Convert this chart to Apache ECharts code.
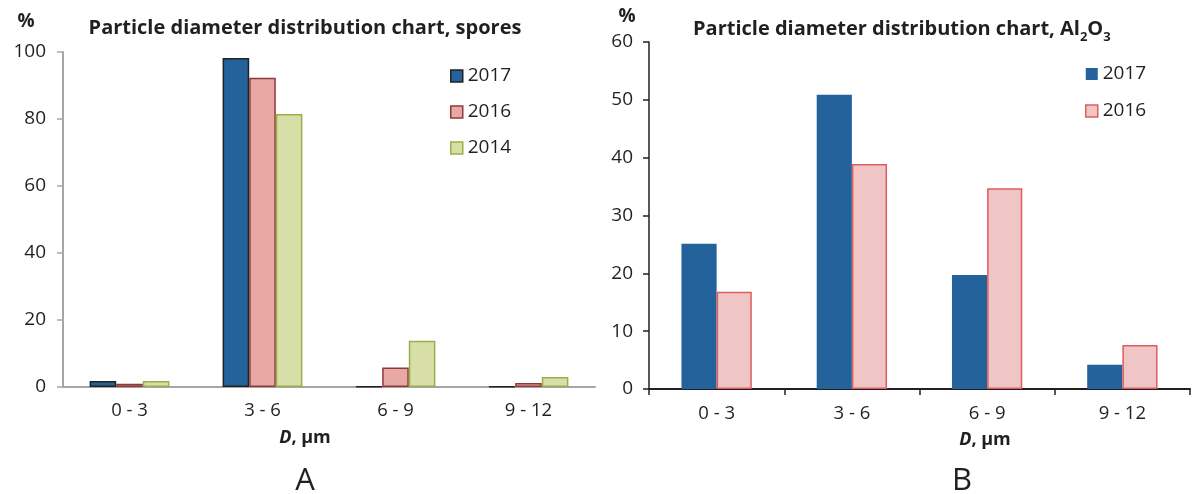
<!DOCTYPE html>
<html>
<head>
<meta charset="utf-8">
<script src="https://cdn.jsdelivr.net/npm/echarts@6/dist/echarts.min.js"></script>
<style>
html,body{margin:0;padding:0;background:#fff;}
#c{width:1197px;height:494px;}
</style>
</head>
<body>
<div id="c"></div>
<script>
const categories = ['0 - 3', '3 - 6', '6 - 9', '9 - 12'];
// Chart A: spores
const sporesTicks = [0, 20, 40, 60, 80, 100];
const spores2017 = [1.8, 98.2, 0.2, 0.2];
const spores2016 = [1.0, 92.3, 5.8, 1.2];
const spores2014 = [1.8, 81.5, 13.8, 3.0];
// Chart B: Al2O3
const aluTicks = [0, 10, 20, 30, 40, 50, 60];
const alu2017 = [25.1, 50.9, 19.7, 4.2];
const alu2016 = [16.8, 38.9, 34.7, 7.6];

const FONT = '"Open Sans", "Noto Sans", sans-serif';
const TXT = '#231f20';

const chart = echarts.init(document.getElementById('c'), null, {renderer: 'canvas'});

const c2017 = '#23629b';
const s2016fill = '#e8a8a4', s2016border = '#8e3a3a';
const s2014fill = '#d8dea7', s2014border = '#98b048';
const a2016fill = '#efc6c5', a2016border = '#e05c5c';

const option = {
  animation: false,
  backgroundColor: '#fff',
  textStyle: {fontFamily: FONT, color: TXT},
  grid: [
    {left: 63, top: 52, width: 532, height: 335, containLabel: false},
    {left: 649, top: 42, width: 541, height: 347, containLabel: false}
  ],
  xAxis: [
    {
      type: 'category', gridIndex: 0, data: categories,
      axisLine: {lineStyle: {color: '#a6a6a8', width: 2}},
      axisTick: {show: false},
      axisLabel: {fontSize: 18.5, color: TXT, fontFamily: FONT, margin: 14}
    },
    {
      type: 'category', gridIndex: 1, data: categories,
      axisLine: {lineStyle: {color: TXT, width: 2}},
      axisTick: {show: true, length: 6, lineStyle: {color: TXT, width: 1.5}},
      axisLabel: {fontSize: 18.5, color: TXT, fontFamily: FONT, margin: 15}
    }
  ],
  yAxis: [
    {
      type: 'value', gridIndex: 0, min: sporesTicks[0], max: sporesTicks[sporesTicks.length - 1], interval: 20,
      axisLine: {show: true, lineStyle: {color: '#a6a6a8', width: 2}},
      axisTick: {show: true, length: 6, lineStyle: {color: '#a6a6a8', width: 1.5}},
      splitLine: {show: false},
      axisLabel: {fontSize: 19, color: TXT, fontFamily: FONT, margin: 17}
    },
    {
      type: 'value', gridIndex: 1, min: aluTicks[0], max: aluTicks[aluTicks.length - 1], interval: 10,
      axisLine: {show: true, lineStyle: {color: TXT, width: 1.5}},
      axisTick: {show: true, length: 6, lineStyle: {color: TXT, width: 1.5}},
      splitLine: {show: false},
      axisLabel: {fontSize: 19, color: TXT, fontFamily: FONT, margin: 16}
    }
  ],
  legend: [
    {
      orient: 'vertical', left: 445, top: 60, itemWidth: 12, itemHeight: 12, itemGap: 14,
      icon: 'rect',
      textStyle: {fontSize: 19, color: TXT, fontFamily: FONT, lineHeight: 22},
      data: [
        {name: '2017', itemStyle: {color: c2017, borderColor: '#222', borderWidth: 1.5}},
        {name: '2016', itemStyle: {color: s2016fill, borderColor: s2016border, borderWidth: 1.5}},
        {name: '2014', itemStyle: {color: s2014fill, borderColor: s2014border, borderWidth: 1.5}}
      ],
      selectedMode: false
    },
    {
      orient: 'vertical', left: 1080, top: 58, itemWidth: 12, itemHeight: 12, itemGap: 15,
      icon: 'rect',
      textStyle: {fontSize: 19, color: TXT, fontFamily: FONT, lineHeight: 22},
      data: [
        {name: '2017', itemStyle: {color: c2017, borderColor: c2017, borderWidth: 0}},
        {name: '2016', itemStyle: {color: a2016fill, borderColor: a2016border, borderWidth: 1.5}}
      ],
      selectedMode: false
    }
  ],
  series: [
    {name: '2017', type: 'bar', xAxisIndex: 0, yAxisIndex: 0, data: spores2017, barWidth: '20%', barGap: '0%',
     itemStyle: {color: c2017, borderColor: '#222', borderWidth: 1.5}},
    {name: '2016', type: 'bar', xAxisIndex: 0, yAxisIndex: 0, data: spores2016, barWidth: '20%', barGap: '0%',
     itemStyle: {color: s2016fill, borderColor: s2016border, borderWidth: 1.5}},
    {name: '2014', type: 'bar', xAxisIndex: 0, yAxisIndex: 0, data: spores2014, barWidth: '20%', barGap: '0%',
     itemStyle: {color: s2014fill, borderColor: s2014border, borderWidth: 1.5}},
    {name: '2017', type: 'bar', xAxisIndex: 1, yAxisIndex: 1, data: alu2017, barWidth: '26%', barGap: '0%',
     itemStyle: {color: c2017}},
    {name: '2016', type: 'bar', xAxisIndex: 1, yAxisIndex: 1, data: alu2016, barWidth: '26%', barGap: '0%',
     itemStyle: {color: a2016fill, borderColor: a2016border, borderWidth: 1.5}}
  ],
  graphic: [
    // chart A title
    {type: 'text', x: 305, y: 28, style: {text: 'Particle diameter distribution chart, spores', font: 'bold 20px ' + FONT, fill: TXT, textAlign: 'center', textVerticalAlign: 'middle'}},
    {type: 'text', x: 26, y: 22, style: {text: '%', font: 'bold 19px ' + FONT, fill: TXT, textAlign: 'center', textVerticalAlign: 'middle'}},
    // chart B title with subscripts
    {type: 'text', x: 693, y: 19, style: {
      text: '{b|Particle diameter distribution chart, Al}{s|2}{b|O}{s|3}',
      rich: {
        b: {font: 'bold 20px ' + FONT, fill: TXT, lineHeight: 26, verticalAlign: 'top'},
        s: {font: 'bold 13px ' + FONT, fill: TXT, lineHeight: 18, verticalAlign: 'top', padding: [12, 0, 0, 0]}
      }
    }},
    {type: 'text', x: 627, y: 17, style: {text: '%', font: 'bold 19px ' + FONT, fill: TXT, textAlign: 'center', textVerticalAlign: 'middle'}},
    // axis names
    {type: 'text', x: 305, y: 438, style: {
      text: '{i|D}{n|, µm}', textAlign: 'center', textVerticalAlign: 'middle',
      rich: {i: {font: 'italic bold 18px ' + FONT, fill: TXT}, n: {font: 'bold 18px ' + FONT, fill: TXT}}
    }},
    {type: 'text', x: 985, y: 440, style: {
      text: '{i|D}{n|, µm}', textAlign: 'center', textVerticalAlign: 'middle',
      rich: {i: {font: 'italic bold 18px ' + FONT, fill: TXT}, n: {font: 'bold 18px ' + FONT, fill: TXT}}
    }},
    // panel letters
    {type: 'text', x: 305, y: 481, style: {text: 'A', font: '31px ' + FONT, fill: TXT, textAlign: 'center', textVerticalAlign: 'middle'}},
    {type: 'text', x: 962, y: 481, style: {text: 'B', font: '31px ' + FONT, fill: TXT, textAlign: 'center', textVerticalAlign: 'middle'}}
  ]
};
chart.setOption(option);
</script>
</body>
</html>
